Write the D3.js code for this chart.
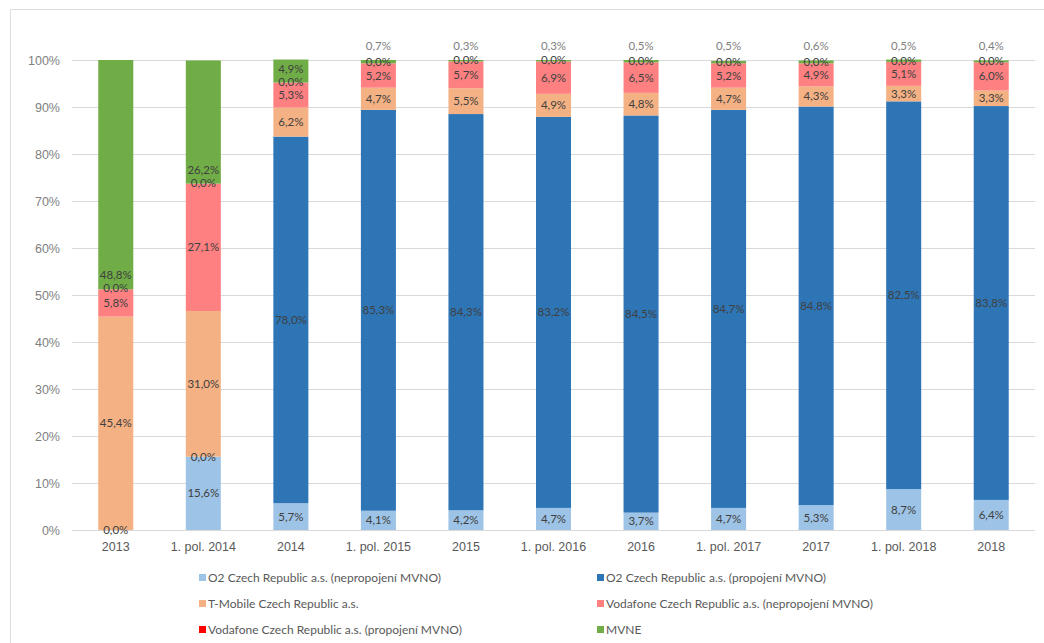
<!DOCTYPE html>
<html>
<head>
<meta charset="utf-8">
<script src="https://cdn.jsdelivr.net/npm/d3@7"></script>
<style>
  body { margin: 0; background: #fff; }
  svg { display: block; font-family: Lato, "Open Sans", sans-serif; }
</style>
</head>
<body>
<svg id="chart" width="1044" height="643"></svg>
<script>
// Periods on the x axis
const categories = ["2013", "1. pol. 2014", "2014", "1. pol. 2015", "2015", "1. pol. 2016",
                    "2016", "1. pol. 2017", "2017", "1. pol. 2018", "2018"];

// Share of each host network (%)
const o2Nepropojeni       = [0.0, 15.6, 5.7, 4.1, 4.2, 4.7, 3.7, 4.7, 5.3, 8.7, 6.4];
const o2Propojeni         = [0.0, 0.0, 78.0, 85.3, 84.3, 83.2, 84.5, 84.7, 84.8, 82.5, 83.8];
const tMobile             = [45.4, 31.0, 6.2, 4.7, 5.5, 4.9, 4.8, 4.7, 4.3, 3.3, 3.3];
const vodafoneNepropojeni = [5.8, 27.1, 5.3, 5.2, 5.7, 6.9, 6.5, 5.2, 4.9, 5.1, 6.0];
const vodafonePropojeni   = [0.0, 0.0, 0.0, 0.0, 0.0, 0.0, 0.0, 0.0, 0.0, 0.0, 0.0];
const mvne                = [48.8, 26.2, 4.9, 0.7, 0.3, 0.3, 0.5, 0.5, 0.6, 0.5, 0.4];

const seriesNames = [
  "O2 Czech Republic a.s. (nepropojení MVNO)",
  "O2 Czech Republic a.s. (propojení MVNO)",
  "T-Mobile Czech Republic a.s.",
  "Vodafone Czech Republic a.s. (nepropojení MVNO)",
  "Vodafone Czech Republic a.s. (propojení MVNO)",
  "MVNE"
];
const seriesValues = [o2Nepropojeni, o2Propojeni, tMobile, vodafoneNepropojeni, vodafonePropojeni, mvne];
const seriesColors = ["#9dc3e6", "#2e75b6", "#f4b183", "#ff8080", "#ff0000", "#70ad47"];

const yTicks = [0, 10, 20, 30, 40, 50, 60, 70, 80, 90, 100];

const svg = d3.select("#chart");

// light outer frame
svg.append("path")
  .attr("d", "M10.5,643 V9.5 H1044")
  .attr("fill", "none")
  .attr("stroke", "#dcdcdc")
  .attr("stroke-width", 1);

const margin = { left: 72, right: 1035, top: 60, bottom: 530 };

const x = d3.scaleBand().domain(categories).range([margin.left, margin.right]).paddingInner(0.6).paddingOuter(0.3);
const y = d3.scaleLinear().domain([0, 100]).range([margin.bottom, margin.top]);

// gridlines + y axis labels
const yAxis = d3.axisLeft(y).tickValues(yTicks).tickFormat(d => d + "%")
  .tickSize(-(margin.right - margin.left)).tickPadding(12);
const gy = svg.append("g").attr("transform", `translate(${margin.left},0)`).call(yAxis);
gy.select(".domain").remove();
gy.selectAll(".tick line").attr("stroke", "#d9d9d9").attr("stroke-width", 1);
gy.selectAll(".tick text").attr("fill", "#7f7f7f").style("font-size", "12.5px");

// stacked data
const table = categories.map((c, i) => {
  const row = { cat: c };
  seriesNames.forEach((s, k) => { row[s] = seriesValues[k][i]; });
  return row;
});
const stack = d3.stack().keys(seriesNames)(table);

const layers = svg.append("g").selectAll("g").data(stack).join("g")
  .attr("fill", (d, i) => seriesColors[i]);
layers.selectAll("rect").data(d => d).join("rect")
  .attr("x", d => x(d.data.cat))
  .attr("width", x.bandwidth())
  .attr("y", d => y(d[1]))
  .attr("height", d => Math.max(0, y(d[0]) - y(d[1])));

// x axis
const xAxis = d3.axisBottom(x).tickSize(0).tickPadding(12);
const gx = svg.append("g").attr("transform", `translate(0,${margin.bottom})`).call(xAxis);
gx.select(".domain").attr("stroke", "#d9d9d9").attr("d", `M${margin.left},0.5H${margin.right}`);
gx.selectAll(".tick text").attr("fill", "#595959").style("font-size", "12.5px");

// value labels
const fmt = v => d3.format(".1f")(v).replace(".", ",") + "%";
const labels = svg.append("g").style("font-size", "11.5px").attr("text-anchor", "middle");
const used = new Set();
stack.forEach((layer, k) => {
  layer.forEach((d, i) => {
    const v = seriesValues[k][i];
    let ly, col = "#404040";
    const lo = y(d[0]), hi = y(d[1]);
    if (k === 5) {
      if (v >= 1) { ly = lo - 14; }
      else { ly = y(100) - 14; col = "#808080"; }
    } else if (k === 4) {
      // zero-height segment: label sits on the boundary
      ly = (lo + hi) / 2 - 1;
    } else {
      ly = (lo + hi) / 2;
    }
    const key = i + ":" + Math.round(ly);
    if (used.has(key)) return;
    used.add(key);
    labels.append("text")
      .attr("x", x(d.data.cat) + x.bandwidth() / 2)
      .attr("y", ly)
      .attr("dy", "0.35em")
      .attr("fill", col)
      .text(fmt(v));
  });
});

// legend (two columns, three rows)
const legend = svg.append("g").style("font-size", "12px");
seriesNames.forEach((name, k) => {
  const col = k % 2, row = Math.floor(k / 2);
  const lx = col === 0 ? 199 : 597;
  const ly = 578 + row * 26;
  const g = legend.append("g").attr("transform", `translate(${lx},${ly})`);
  g.append("rect").attr("x", 0).attr("y", -4).attr("width", 7).attr("height", 7).attr("fill", seriesColors[k]);
  g.append("text").attr("x", 9).attr("y", 0).attr("dy", "0.35em").attr("fill", "#595959").text(name);
});
</script>
</body>
</html>
